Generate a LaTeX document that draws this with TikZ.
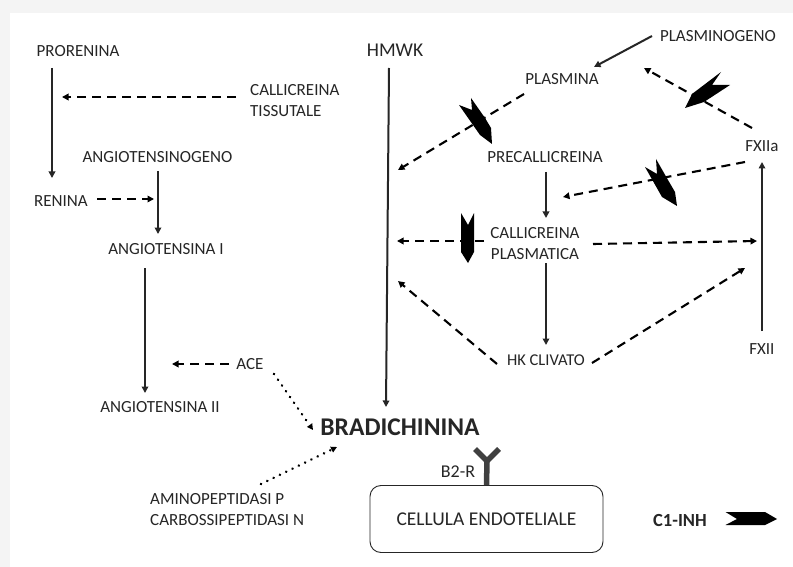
\documentclass[tikz,border=0pt]{standalone}
\usepackage{fontspec}
\setmainfont{Carlito}
\usetikzlibrary{arrows.meta}
\definecolor{ink}{HTML}{262626}
\definecolor{edgeband}{HTML}{F4F4F4}
\tikzset{
  x=1pt,y=-1pt,
  lbl/.style={inner sep=0pt,text=ink,font=\fontsize{17}{21}\selectfont,align=center},
  solidarr/.style={draw=ink,line width=2pt,-{Triangle[length=6.5pt,width=6.5pt]}},
  dasharr/.style={draw=black,line width=2.1pt,dash pattern=on 9pt off 6pt,-{Triangle[length=6.5pt,width=6.5pt]}},
  dotarr/.style={draw=black,line width=2.8pt,line cap=round,dash pattern=on 0.01pt off 7pt,-{Triangle[length=6pt,width=6pt]}},
  blocker/.style={fill=black,draw=none},
}
\begin{document}
\begin{tikzpicture}
\useasboundingbox (0,0) rectangle (793,567);
\fill[edgeband] (0,0) rectangle (793,567);
\fill[white] (10,13) rectangle (793,567);
\node[lbl] (prorenina) at (78,51) {PRORENINA};
\node[lbl,align=left,anchor=west] (tissutale) at (250,101) {CALLICREINA\\TISSUTALE};
\node[lbl] (angiogeno) at (157.5,157) {ANGIOTENSINOGENO};
\node[lbl] (renina) at (61,201) {RENINA};
\node[lbl] (angioI) at (166,249) {ANGIOTENSINA I};
\node[lbl] (ace) at (250,364) {ACE};
\node[lbl] (angioII) at (160,407) {ANGIOTENSINA II};
\node[lbl,align=left,anchor=west] (amino) at (150,510) {AMINOPEPTIDASI P\\CARBOSSIPEPTIDASI N};
\node[lbl,font=\fontsize{19.5}{21}\selectfont] (hmwk) at (395,50) {HMWK};
\node[lbl] (plasminogeno) at (718,36) {PLASMINOGENO};
\node[lbl] (plasmina) at (562,79) {PLASMINA};
\node[lbl] (precall) at (545,157) {PRECALLICREINA};
\node[lbl] (fxiia) at (762,146) {FXIIa};
\node[lbl] (plasmatica) at (535,243.5) {CALLICREINA\\PLASMATICA};
\node[lbl,font=\fontsize{16.5}{21}\selectfont] (hk) at (546,360) {HK CLIVATO};
\node[lbl] (fxii) at (762,349) {FXII};
\node[lbl,font=\fontsize{25.5}{28}\bfseries\selectfont] (brad) at (400,427) {BRADICHININA};
\node[lbl,font=\fontsize{18}{21}\selectfont] (b2r) at (458,472) {B2-R};
\node[lbl,font=\fontsize{19.5}{22}\selectfont,draw=ink,line width=.9pt,rounded corners=11pt,minimum width=233pt,minimum height=67pt] (cell) at (486.5,519) {CELLULA ENDOTELIALE};
\node[lbl,font=\fontsize{18.5}{21}\bfseries\selectfont] (c1) at (680,520) {C1-INH};
% solid
\draw[solidarr] ([shift={(-26,17)}]prorenina.center) -- ([shift={(-9,-23)}]renina.center);
\draw[solidarr] ([shift={(0.5,14)}]angiogeno.center) -- ([shift={(-8,-15)}]angioI.center);
\draw[solidarr] ([shift={(-21,19)}]angioI.center) -- ([shift={(-15,-14)}]angioII.center);
\draw[solidarr] ([shift={(-6,18)}]hmwk.center) -- ([shift={(-14,-20)}]brad.center);
\draw[solidarr] ([shift={(-66,0)}]plasminogeno.center) -- ([shift={(32,-12)}]plasmina.center);
\draw[solidarr] ([shift={(1,15)}]precall.center) -- ([shift={(11,-25.5)}]plasmatica.center);
\draw[solidarr] ([shift={(11,19.5)}]plasmatica.center) -- ([shift={(0,-15)}]hk.center);
\draw[solidarr] ([shift={(0,-18)}]fxii.center) -- ([shift={(0,16)}]fxiia.center);
% dashed
\coordinate (tissEnd) at (62,97);
\coordinate (hmwkA) at (398,170);
\coordinate (hmwkB) at (397,241);
\coordinate (hmwkC) at (398,281);
\coordinate (fxiiRight) at (757,241);
\coordinate (fxiiLow) at (745,268);
\coordinate (plasminaEnd) at (644,68);
\coordinate (precallEnd) at (563,197);
\coordinate (angioEnd) at (154,199);
\coordinate (aceEnd) at (172,364);
\draw[dasharr] ([shift={(-14,-4)}]tissutale.west) -- (tissEnd);
\draw[dasharr] ([shift={(36,-2)}]renina.center) -- (angioEnd);
\draw[dasharr] ([shift={(-21,0)}]ace.center) -- (aceEnd);
\draw[dasharr] ([shift={(-38,15)}]plasmina.center) -- (hmwkA);
\draw[dasharr] ([shift={(-10,-18)}]fxiia.center) -- (plasminaEnd);
\draw[dasharr] ([shift={(-17,16)}]fxiia.center) -- (precallEnd);
\draw[dasharr] ([shift={(-51,-2.5)}]plasmatica.center) -- (hmwkB);
\draw[dasharr] ([shift={(58,0.5)}]plasmatica.center) -- (fxiiRight);
\draw[dasharr] ([shift={(-49,4)}]hk.center) -- (hmwkC);
\draw[dasharr] ([shift={(46,3)}]hk.center) -- (fxiiLow);
% dotted
\draw[dotarr] ([shift={(24,10)}]ace.center) -- ([shift={(-87,3)}]brad.center);
\draw[dotarr] ([shift={(111,-26)}]amino.west) -- ([shift={(-63,20)}]brad.center);
% blockers
\fill[blocker] (685,108)--(692,94)--(721,72)--(712,85)--(730,85)--(704,102)--cycle;
\fill[blocker] (492,144)--(480,135)--(459,105)--(472,110)--(471,98)--(485,118)--(491,128)--cycle;
\fill[blocker] (677,206)--(662,197)--(645,167)--(657,174)--(656,159)--(668,180)--(675,192)--cycle;
\fill[blocker] (468,263)--(461,252)--(461,213)--(468,225)--(474,213)--(474,252)--cycle;
\fill[blocker] (725.5,512)--(765,512)--(777,519)--(765,525)--(725.5,525)--(737,519)--cycle;
% receptor
\draw[color=ink!88,line width=5.5pt,line join=miter] (475,449)--(487,461)--(499,449);
\draw[color=ink!88,line width=5.5pt] (487,461)--(cell.north);
\end{tikzpicture}
\end{document}
